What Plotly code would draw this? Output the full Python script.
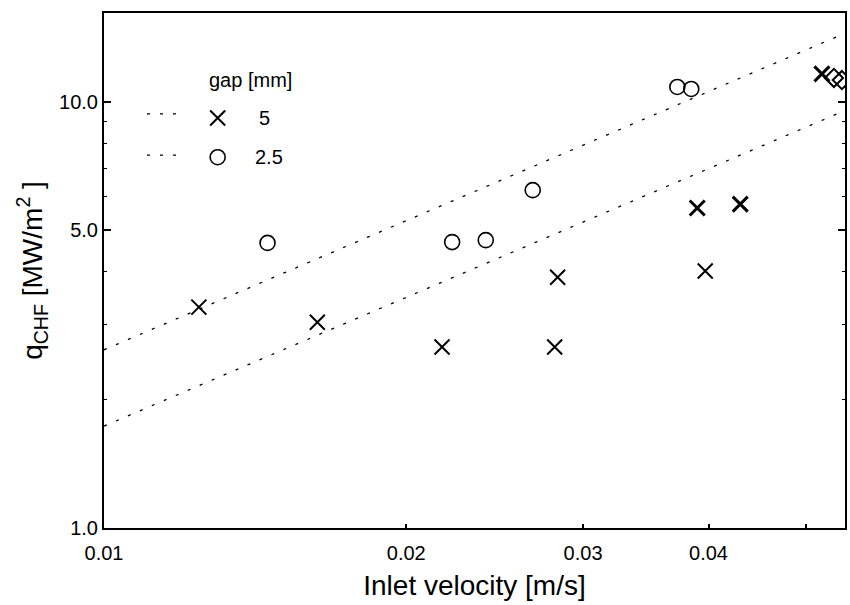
import plotly.graph_objects as go

# Critical heat flux vs inlet velocity, two channel gaps
u_gap5 = [0.01243, 0.01631, 0.02171, 0.02811, 0.02830, 0.03898, 0.03970, 0.04302, 0.05188]
q_gap5 = [3.30, 3.04, 2.66, 2.66, 3.88, 5.64, 4.01, 5.76, 11.64]
w_gap5 = [2, 2, 2, 2, 2, 3, 2, 3, 3]

u_gap25 = [0.01455, 0.02222, 0.02400, 0.02673, 0.03724, 0.03845]
q_gap25 = [4.67, 4.69, 4.74, 6.21, 10.85, 10.73]

# points at the right edge of the velocity range
u_edge = [0.05333, 0.05431]
q_edge = [11.39, 11.26]

# correlation lines (end points)
fit_u = [0.01, 0.0547]
fit_q_gap25 = [2.62, 14.5]
fit_q_gap5 = [1.735, 9.55]

x_tickvals = [0.01, 0.02, 0.03, 0.04]
x_ticktext = ["0.01", "0.02", "0.03", "0.04"]
x_minorvals = [0.05]
y_tickvals = [1, 5, 10]
y_ticktext = ["1.0", "5.0", "10.0"]
y_minorvals = [2, 3, 4, 6, 7, 8, 9]

FONT = "Liberation Sans, Arial, Helvetica, sans-serif"
DOT = "3px,10px"

fig = go.Figure()

fig.add_trace(go.Scatter(x=fit_u, y=fit_q_gap25, mode="lines",
                         line=dict(color="black", width=1.3, dash=DOT),
                         showlegend=False, hoverinfo="skip"))
fig.add_trace(go.Scatter(x=fit_u, y=fit_q_gap5, mode="lines",
                         line=dict(color="black", width=1.3, dash=DOT),
                         showlegend=False, hoverinfo="skip"))

fig.add_trace(go.Scatter(x=u_gap25, y=q_gap25, mode="markers",
                         marker=dict(symbol="circle-open", size=15, color="black",
                                     line=dict(color="black", width=1.6)),
                         showlegend=False))
fig.add_trace(go.Scatter(x=u_gap5, y=q_gap5, mode="markers",
                         marker=dict(symbol="x-thin", size=15, color="black",
                                     line=dict(color="black", width=w_gap5)),
                         showlegend=False))
fig.add_trace(go.Scatter(x=u_edge, y=q_edge, mode="markers",
                         marker=dict(symbol="diamond-open", size=14, color="black",
                                     line=dict(color="black", width=2)),
                         showlegend=False))

# legend symbols on a hidden unit overlay
fig.add_trace(go.Scatter(x=[0.1534], y=[0.796], xaxis="x2", yaxis="y2", mode="markers",
                         marker=dict(symbol="x-thin", size=15, color="black",
                                     line=dict(color="black", width=2)),
                         showlegend=False, hoverinfo="skip"))
fig.add_trace(go.Scatter(x=[0.1534], y=[0.720], xaxis="x2", yaxis="y2", mode="markers",
                         marker=dict(symbol="circle-open", size=15, color="black",
                                     line=dict(color="black", width=1.6)),
                         showlegend=False, hoverinfo="skip"))
for yy in [0.804, 0.724]:
    fig.add_shape(type="line", xref="paper", yref="paper", x0=0.058, x1=0.102, y0=yy, y1=yy,
                  line=dict(color="black", width=1.3, dash=DOT))

legend_texts = [("gap [mm]", 0.198, 0.870), ("5", 0.2167, 0.796), ("2.5", 0.222, 0.720)]
for txt, xx, yy in legend_texts:
    fig.add_annotation(x=xx, y=yy, xref="paper", yref="paper", text=txt,
                       xanchor="center", yanchor="middle", showarrow=False,
                       font=dict(size=20, color="black", family=FONT))

fig.update_layout(
    width=850, height=605,
    margin=dict(l=104, r=3, t=13, b=77),
    paper_bgcolor="white", plot_bgcolor="white",
    font=dict(family=FONT, color="black"),
    xaxis=dict(
        type="log", range=[-2, -1.262],
        tickvals=x_tickvals, ticktext=x_ticktext,
        ticks="inside", ticklen=4, tickwidth=1.5, tickcolor="black",
        minor=dict(tickvals=x_minorvals, ticks="inside", ticklen=4,
                   tickwidth=1.5, tickcolor="black", showgrid=False),
        showline=True, linecolor="black", linewidth=2, mirror=True,
        showgrid=False, zeroline=False,
        tickfont=dict(size=20, family=FONT), ticklabelstandoff=6,
        title=dict(text="Inlet velocity [m/s]", font=dict(size=28, family=FONT), standoff=12),
    ),
    yaxis=dict(
        type="log", range=[0, 1.209],
        tickvals=y_tickvals, ticktext=y_ticktext,
        ticks="inside", ticklen=7, tickwidth=1.5, tickcolor="black",
        minor=dict(tickvals=y_minorvals, ticks="inside", ticklen=3,
                   tickwidth=1.2, tickcolor="black", showgrid=False),
        showline=True, linecolor="black", linewidth=2, mirror="ticks",
        showgrid=False, zeroline=False,
        tickfont=dict(size=20, family=FONT), ticklabelstandoff=0,
        title=dict(text="q<sub>CHF</sub> [MW/m<sup>2</sup> ]", font=dict(size=28, family=FONT),
                   standoff=8),
    ),
    xaxis2=dict(overlaying="x", anchor="y2", range=[0, 1], visible=False, fixedrange=True),
    yaxis2=dict(overlaying="y", anchor="x2", range=[0, 1], visible=False, fixedrange=True),
)

fig.write_html("out.html")
